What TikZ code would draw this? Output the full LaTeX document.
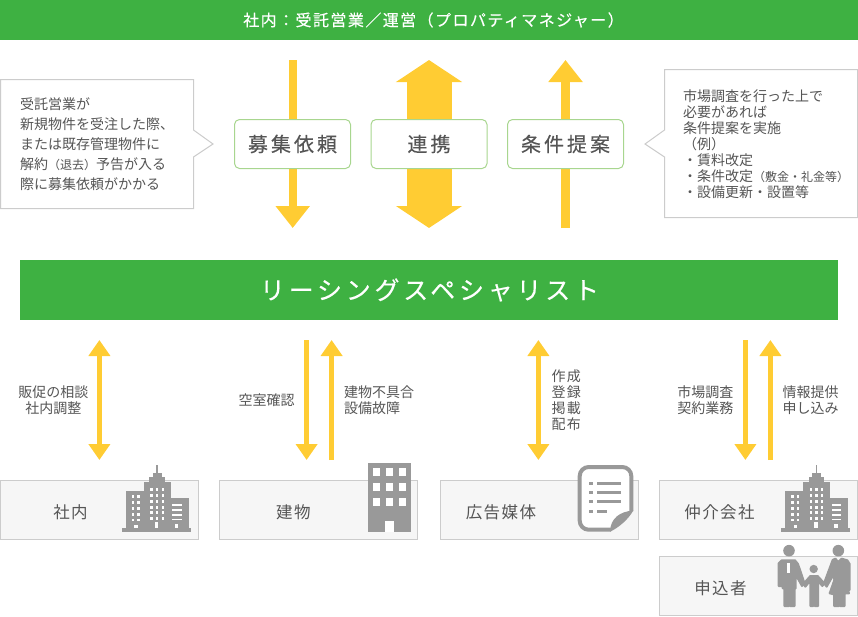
\documentclass[tikz,border=0pt]{standalone}
\usepackage{fontspec}
\usetikzlibrary{arrows.meta}
\setmainfont{Noto Sans CJK JP}
\newfontfamily\widefont{Noto Sans CJK JP}[LetterSpace=15,FakeBold=0.25]
\newfontfamily\bandfont{Noto Sans CJK JP}[LetterSpace=9,FakeBold=0.25]
\newfontfamily\slightfont{Noto Sans CJK JP}[LetterSpace=9]

\definecolor{bandgreen}{HTML}{3EB142}
\definecolor{boxgreen}{HTML}{A8D68F}
\definecolor{arrowyellow}{HTML}{FFCC33}
\definecolor{linegray}{HTML}{CCCCCC}
\definecolor{iconfill}{HTML}{999999}
\definecolor{textgray}{HTML}{555555}
\definecolor{boxfill}{HTML}{F6F6F6}

\newcommand{\smalltxt}[1]{{\fontsize{12}{12}\selectfont #1}}

\tikzset{
  bandtext/.style={text=white},
  notebox/.style={draw=linegray,fill=white,line width=1pt},
  notetext/.style={text=textgray,anchor=west,align=left,inner sep=0pt},
  midbox/.style={draw=boxgreen,fill=white,line width=1pt,rounded corners=5pt,minimum width=116pt,minimum height=49pt,text=textgray,font=\fontsize{20}{20}\widefont,inner sep=0pt},
  bigarrow/.style={arrowyellow,line width=45pt,{Triangle[width=65pt,length=22pt]}-{Triangle[width=65pt,length=22pt]}},
  toparrow/.style={arrowyellow,line width=8.4pt,-{Triangle[width=33pt,length=22pt]}},
  lowarrow/.style={arrowyellow,line width=5pt,-{Triangle[width=21pt,length=16pt]}},
  lowboth/.style={arrowyellow,line width=5pt,{Triangle[width=21pt,length=16pt]}-{Triangle[width=21pt,length=16pt]}},
  sidetext/.style={text=textgray,align=center,inner sep=0pt,font=\fontsize{14}{16}\selectfont},
  groupbox/.style={draw=linegray,fill=boxfill,line width=1pt,minimum width=198pt,minimum height=59pt,inner sep=0pt},
  grouptext/.style={text=textgray,inner sep=0pt,font=\fontsize{16.5}{16.5}\slightfont},
  officeicon/.pic={
    % base and the three blocks
    \fill[iconfill] (0,-3.4) rectangle (69.3,0);
    \fill[iconfill] (4,-41) rectangle (22.3,-3.4);
    \fill[iconfill] (22.3,-49.7) rectangle (49,-3.4);
    \fill[iconfill] (49,-33.7) rectangle (67.3,-3.4);
    \fill[iconfill] (27.6,-55) rectangle (43.3,-49.7);
    \fill[iconfill] (31,-59) rectangle (40,-55);
    \fill[iconfill] (34.6,-66.7) rectangle (36.3,-59);
    % windows
    \foreach \y in {-35,-29,-23.4,-17.4,-11.7}
      \foreach \x in {10,15.6}
        \fill[white] (\x,\y-1.3) rectangle ++(2.6,2.6);
    \foreach \y in {-42.4,-36.4,-30.4,-24.4,-19,-13}
      \foreach \x in {28.5,34.1,39.8}
        \fill[white] (\x,\y-1.3) rectangle ++(2.6,2.6);
    \foreach \y in {-26.7,-21.7,-16.7,-12.4}
      \fill[white] (50.6,\y-0.7) rectangle ++(9.4,1.4);
    % doors
    \fill[white] (12.6,-6.7) rectangle (16,-3.4);
    \fill[white] (33.3,-9.4) rectangle (36.6,-3.4);
    \fill[white] (53.3,-7.7) rectangle (56.6,-3.4);
  }
}

\begin{document}
\begin{tikzpicture}[x=1pt,y=-1pt]
\useasboundingbox (0,0) rectangle (858,616);

% Free ends of the arrows
\coordinate (recruit-top) at (292.7,60);
\coordinate (recruit-bottom) at (292.7,228);
\coordinate (liaison-top) at (429,60);
\coordinate (liaison-bottom) at (429,228);
\coordinate (offer-top) at (565.5,60);
\coordinate (offer-bottom) at (565.5,228);

% Top arrows go behind the three boxes
\draw[toparrow] (recruit-top) -- (recruit-bottom);
\draw[bigarrow] (liaison-top) -- (liaison-bottom);
\draw[toparrow] (offer-bottom) -- (offer-top);

% Green bands
\fill[bandgreen] (0,0) rectangle (858,40);
\fill[bandgreen] (20,260) rectangle (838,320);
\node[bandtext,font=\fontsize{16}{16}\bandfont] (manager) at (433.5,20) {社内：受託営業／運営（プロパティマネジャー）};
\node[bandtext,font=\fontsize{25}{25}\widefont] (leasing) at (429.5,290) {リーシングスペシャリスト};

% Three boxes in the middle
\node[midbox] (recruit) at (292.5,144) {募集依頼};
\node[midbox] (liaison) at (429,144) {連携};
\node[midbox] (offer) at (565.5,144) {条件提案};

% Left note with its pointer
\draw[notebox] (0.5,79.5) -- (193.5,79.5) -- (193.5,130) -- (213,144) -- (193.5,157) -- (193.5,208.5) -- (0.5,208.5) -- cycle;
\node[notetext,font=\fontsize{14}{20}\selectfont] (leftnote) at (20,144) {受託営業が\\新規物件を受注した際、\\または既存管理物件に\\解約\smalltxt{（退去）}予告が入る\\際に募集依頼がかかる};

% Right note with its pointer
\draw[notebox] (664.5,69.5) -- (857.5,69.5) -- (857.5,217.5) -- (664.5,217.5) -- (664.5,157) -- (645,144) -- (664.5,130) -- cycle;
\node[notetext,font=\fontsize{14}{16}\selectfont] (rightnote) at (683,144) {市場調査を行った上で\\必要があれば\\条件提案を実施\\（例）\\・賃料改定\\・条件改定\smalltxt{（敷金・礼金等）}\\・設備更新・設置等};

% Free ends of the lower arrows
\foreach \name/\x in {inhouse/99.4,vacancy/306.6,defect/331.6,media/538.4,survey/745.4,info/770.4} {
  \coordinate (\name-top) at (\x,340);
  \coordinate (\name-bottom) at (\x,460);
}
\draw[lowboth] (inhouse-top) -- (inhouse-bottom);
\draw[lowarrow] (vacancy-top) -- (vacancy-bottom);
\draw[lowarrow] (defect-bottom) -- (defect-top);
\draw[lowboth] (media-top) -- (media-bottom);
\draw[lowarrow] (survey-top) -- (survey-bottom);
\draw[lowarrow] (info-bottom) -- (info-top);

% Arrow labels
\node[sidetext] (inhouse-label) at (53.3,400) {販促の相談\\社内調整};
\node[sidetext] (vacancy-label) at (266.7,400) {空室確認};
\node[sidetext,anchor=west,align=left] (defect-label) at (344,400) {建物不具合\\設備故障};
\node[sidetext,anchor=west,align=left,font=\fontsize{14}{16}\slightfont] (media-label) at (551.5,400.5) {作成\\登録\\掲載\\配布};
\node[sidetext] (survey-label) at (705.3,400) {市場調査\\契約業務};
\node[sidetext] (info-label) at (810.7,400) {情報提供\\申し込み};

% Boxes along the bottom
\node[groupbox] (inhouse) at (99.5,510) {};
\node[groupbox] (building) at (318.8,510) {};
\node[groupbox] (media) at (539,510) {};
\node[groupbox] (broker) at (758.5,510) {};
\node[groupbox,minimum height=58.5pt] (applicant) at (758.5,586) {};

\node[grouptext] at (inhouse.center) [xshift=-29pt,yshift=-2.5pt] (inhouse-name) {社内};
\node[grouptext] at (building.center) [xshift=-25.5pt,yshift=-2.5pt] (building-name) {建物};
\node[grouptext] at (media.center) [xshift=-38pt,yshift=-2.5pt] (media-name) {広告媒体};
\node[grouptext] at (broker.center) [xshift=-39pt,yshift=-2.5pt] (broker-name) {仲介会社};
\node[grouptext] at (applicant.center) [xshift=-38pt,yshift=-2pt] (applicant-name) {申込者};

% Office icons
\pic at (121.7,531.7) {officeicon};
\pic at (781,531.7) {officeicon};

% Block of flats
\fill[iconfill] (368,462.7) rectangle (411.3,532);
\foreach \x in {373.3,386.3,399}
  \foreach \y in {468,483,498}
    \fill[white] (\x,\y) rectangle ++(6.6,8.2);
\fill[white] (385.3,521.3) rectangle (393.7,532);

% Document icon
\draw[iconfill,fill=white,line width=4pt,rounded corners=9pt] (611,529.7) -- (579.7,529.7) -- (579.7,467) -- (631.3,467) -- (631.3,511);
\fill[iconfill] (633.3,510.5) .. controls (620,511.5) and (610.5,518) .. (610,531.7) .. controls (618,528) and (628,520) .. cycle;
\foreach \y in {483.3,492.3,501.7} {
  \fill[iconfill] (589,\y-1.5) rectangle ++(3.7,3);
  \fill[iconfill] (596.7,\y-1.5) rectangle ++(24,3);
}
\fill[iconfill] (589,509.5) rectangle ++(3.7,3);
\fill[iconfill] (596.7,509.5) rectangle ++(10,3);

% Family icon, drawn in units of a third of a pixel
\begin{scope}[shift={(770,540)},x=0.3333pt,y=-0.3333pt]
\tikzset{figure/.style={fill=iconfill,draw=iconfill,line width=2pt,line join=round}}
\fill[iconfill] (57,32) circle (5.8pt);
\fill[iconfill] (205,32) circle (5.8pt);
\fill[iconfill] (131,87) circle (4.2pt);
\draw[figure] (26,70) -- (35,61) -- (75,61) -- (84,72) -- (103,128) -- (96,138) -- (77,104) -- (77,145) -- (74,145) -- (74,198) -- (60,198) -- (60,150) -- (57,150) -- (57,198) -- (43,198) -- (43,145) -- (38,145) -- (38,138) -- (26,138) -- cycle;
\fill[white] (51,70) rectangle (60,100);
\draw[figure] (121,108) -- (143,108) -- (163,130) -- (157,138) -- (144,122) -- (144,198) -- (134,198) -- (134,165) -- (130,165) -- (130,198) -- (121,198) -- (121,122) -- (106,140) -- (100,132) -- cycle;
\draw[figure] (188,60) -- (196,56) -- (205,66) -- (215,56) -- (232,61) -- (239,72) -- (239,150) -- (229,150) -- (229,118) -- (226,125) -- (237,160) -- (224,160) -- (224,198) -- (210,198) -- (210,165) -- (207,165) -- (207,198) -- (192,198) -- (192,163) -- (179,160) -- (193,120) -- (190,105) -- (170,140) -- (162,130) -- cycle;
\end{scope}

\end{tikzpicture}
\end{document}
